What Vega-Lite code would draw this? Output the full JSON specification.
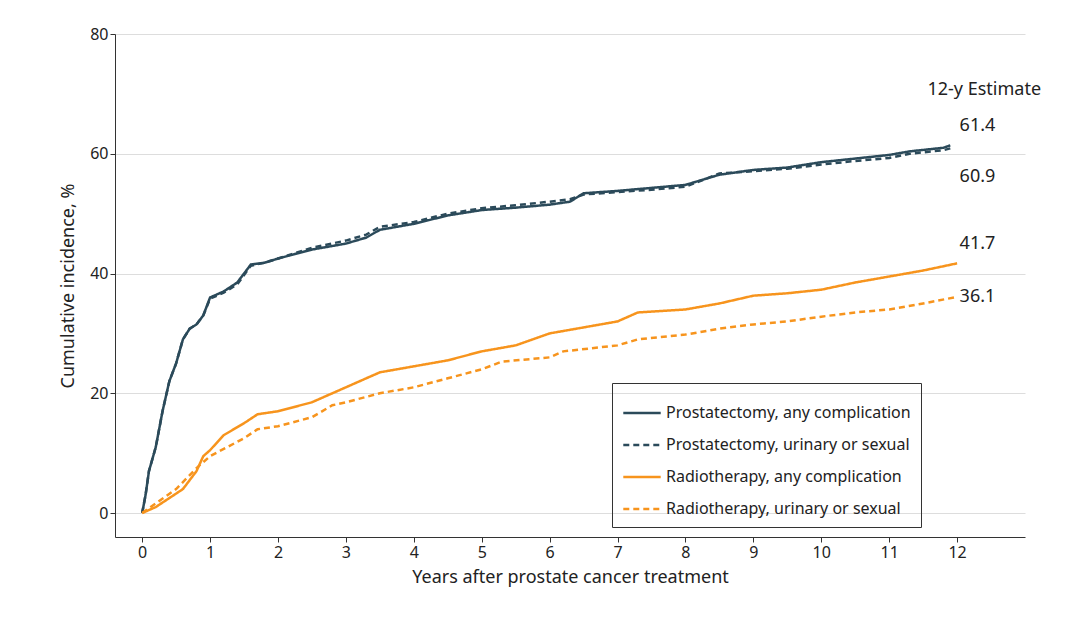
{
  "$schema": "https://vega.github.io/schema/vega-lite/v6.json",
  "autosize": "none",
  "padding": {"left": 115, "top": 34, "right": 55, "bottom": 80},
  "width": 910,
  "height": 503,
  "config": {
    "font": "Noto Sans",
    "view": {"stroke": null},
    "axis": {"labelFontSize": 16, "titleFontSize": 18, "titleFontWeight": "normal", "labelColor": "#222", "titleColor": "#222", "domainColor": "#333", "tickColor": "#333", "format": "d"}
  },
  "datasets": {
    "curves": [
      {"s": "Prostatectomy, any complication", "t": 0, "v": 0}, {"s": "Prostatectomy, any complication", "t": 0.05, "v": 3}, {"s": "Prostatectomy, any complication", "t": 0.1, "v": 7}, {"s": "Prostatectomy, any complication", "t": 0.2, "v": 11}, {"s": "Prostatectomy, any complication", "t": 0.3, "v": 17}, {"s": "Prostatectomy, any complication", "t": 0.4, "v": 22}, {"s": "Prostatectomy, any complication", "t": 0.5, "v": 25}, {"s": "Prostatectomy, any complication", "t": 0.6, "v": 29}, {"s": "Prostatectomy, any complication", "t": 0.7, "v": 30.8}, {"s": "Prostatectomy, any complication", "t": 0.8, "v": 31.5}, {"s": "Prostatectomy, any complication", "t": 0.9, "v": 33}, {"s": "Prostatectomy, any complication", "t": 1.0, "v": 36}, {"s": "Prostatectomy, any complication", "t": 1.2, "v": 37}, {"s": "Prostatectomy, any complication", "t": 1.4, "v": 38.5}, {"s": "Prostatectomy, any complication", "t": 1.6, "v": 41.5}, {"s": "Prostatectomy, any complication", "t": 1.8, "v": 41.8}, {"s": "Prostatectomy, any complication", "t": 2, "v": 42.5}, {"s": "Prostatectomy, any complication", "t": 2.5, "v": 44}, {"s": "Prostatectomy, any complication", "t": 3, "v": 45}, {"s": "Prostatectomy, any complication", "t": 3.3, "v": 46}, {"s": "Prostatectomy, any complication", "t": 3.5, "v": 47.3}, {"s": "Prostatectomy, any complication", "t": 4, "v": 48.3}, {"s": "Prostatectomy, any complication", "t": 4.5, "v": 49.7}, {"s": "Prostatectomy, any complication", "t": 5, "v": 50.6}, {"s": "Prostatectomy, any complication", "t": 5.5, "v": 51}, {"s": "Prostatectomy, any complication", "t": 6, "v": 51.5}, {"s": "Prostatectomy, any complication", "t": 6.3, "v": 52}, {"s": "Prostatectomy, any complication", "t": 6.5, "v": 53.4}, {"s": "Prostatectomy, any complication", "t": 7, "v": 53.8}, {"s": "Prostatectomy, any complication", "t": 7.5, "v": 54.3}, {"s": "Prostatectomy, any complication", "t": 8, "v": 54.8}, {"s": "Prostatectomy, any complication", "t": 8.5, "v": 56.5}, {"s": "Prostatectomy, any complication", "t": 9, "v": 57.3}, {"s": "Prostatectomy, any complication", "t": 9.5, "v": 57.7}, {"s": "Prostatectomy, any complication", "t": 10, "v": 58.6}, {"s": "Prostatectomy, any complication", "t": 10.5, "v": 59.2}, {"s": "Prostatectomy, any complication", "t": 11, "v": 59.8}, {"s": "Prostatectomy, any complication", "t": 11.3, "v": 60.4}, {"s": "Prostatectomy, any complication", "t": 11.8, "v": 61.0}, {"s": "Prostatectomy, any complication", "t": 11.9, "v": 61.4},
      {"s": "Prostatectomy, urinary or sexual", "t": 0, "v": 0}, {"s": "Prostatectomy, urinary or sexual", "t": 0.05, "v": 3}, {"s": "Prostatectomy, urinary or sexual", "t": 0.1, "v": 7}, {"s": "Prostatectomy, urinary or sexual", "t": 0.2, "v": 11}, {"s": "Prostatectomy, urinary or sexual", "t": 0.3, "v": 17}, {"s": "Prostatectomy, urinary or sexual", "t": 0.4, "v": 22}, {"s": "Prostatectomy, urinary or sexual", "t": 0.5, "v": 25}, {"s": "Prostatectomy, urinary or sexual", "t": 0.6, "v": 29}, {"s": "Prostatectomy, urinary or sexual", "t": 0.7, "v": 30.8}, {"s": "Prostatectomy, urinary or sexual", "t": 0.8, "v": 31.5}, {"s": "Prostatectomy, urinary or sexual", "t": 0.9, "v": 33}, {"s": "Prostatectomy, urinary or sexual", "t": 1.0, "v": 35.8}, {"s": "Prostatectomy, urinary or sexual", "t": 1.2, "v": 36.8}, {"s": "Prostatectomy, urinary or sexual", "t": 1.4, "v": 38.2}, {"s": "Prostatectomy, urinary or sexual", "t": 1.6, "v": 41.3}, {"s": "Prostatectomy, urinary or sexual", "t": 1.8, "v": 41.8}, {"s": "Prostatectomy, urinary or sexual", "t": 2, "v": 42.5}, {"s": "Prostatectomy, urinary or sexual", "t": 2.5, "v": 44.3}, {"s": "Prostatectomy, urinary or sexual", "t": 3, "v": 45.5}, {"s": "Prostatectomy, urinary or sexual", "t": 3.3, "v": 46.5}, {"s": "Prostatectomy, urinary or sexual", "t": 3.5, "v": 47.8}, {"s": "Prostatectomy, urinary or sexual", "t": 4, "v": 48.6}, {"s": "Prostatectomy, urinary or sexual", "t": 4.5, "v": 50}, {"s": "Prostatectomy, urinary or sexual", "t": 5, "v": 50.9}, {"s": "Prostatectomy, urinary or sexual", "t": 5.5, "v": 51.4}, {"s": "Prostatectomy, urinary or sexual", "t": 6, "v": 52}, {"s": "Prostatectomy, urinary or sexual", "t": 6.3, "v": 52.4}, {"s": "Prostatectomy, urinary or sexual", "t": 6.5, "v": 53.2}, {"s": "Prostatectomy, urinary or sexual", "t": 7, "v": 53.6}, {"s": "Prostatectomy, urinary or sexual", "t": 7.5, "v": 54}, {"s": "Prostatectomy, urinary or sexual", "t": 8, "v": 54.5}, {"s": "Prostatectomy, urinary or sexual", "t": 8.5, "v": 56.7}, {"s": "Prostatectomy, urinary or sexual", "t": 9, "v": 57.1}, {"s": "Prostatectomy, urinary or sexual", "t": 9.5, "v": 57.5}, {"s": "Prostatectomy, urinary or sexual", "t": 10, "v": 58.2}, {"s": "Prostatectomy, urinary or sexual", "t": 10.5, "v": 58.8}, {"s": "Prostatectomy, urinary or sexual", "t": 11, "v": 59.3}, {"s": "Prostatectomy, urinary or sexual", "t": 11.3, "v": 60}, {"s": "Prostatectomy, urinary or sexual", "t": 11.8, "v": 60.6}, {"s": "Prostatectomy, urinary or sexual", "t": 11.9, "v": 60.9},
      {"s": "Radiotherapy, any complication", "t": 0, "v": 0}, {"s": "Radiotherapy, any complication", "t": 0.2, "v": 1}, {"s": "Radiotherapy, any complication", "t": 0.4, "v": 2.5}, {"s": "Radiotherapy, any complication", "t": 0.6, "v": 4}, {"s": "Radiotherapy, any complication", "t": 0.8, "v": 7}, {"s": "Radiotherapy, any complication", "t": 0.9, "v": 9.5}, {"s": "Radiotherapy, any complication", "t": 1, "v": 10.5}, {"s": "Radiotherapy, any complication", "t": 1.2, "v": 13}, {"s": "Radiotherapy, any complication", "t": 1.5, "v": 15}, {"s": "Radiotherapy, any complication", "t": 1.7, "v": 16.5}, {"s": "Radiotherapy, any complication", "t": 2, "v": 17}, {"s": "Radiotherapy, any complication", "t": 2.5, "v": 18.5}, {"s": "Radiotherapy, any complication", "t": 2.8, "v": 20}, {"s": "Radiotherapy, any complication", "t": 3, "v": 21}, {"s": "Radiotherapy, any complication", "t": 3.5, "v": 23.5}, {"s": "Radiotherapy, any complication", "t": 4, "v": 24.5}, {"s": "Radiotherapy, any complication", "t": 4.5, "v": 25.5}, {"s": "Radiotherapy, any complication", "t": 5, "v": 27}, {"s": "Radiotherapy, any complication", "t": 5.5, "v": 28}, {"s": "Radiotherapy, any complication", "t": 6, "v": 30}, {"s": "Radiotherapy, any complication", "t": 6.5, "v": 31}, {"s": "Radiotherapy, any complication", "t": 7, "v": 32}, {"s": "Radiotherapy, any complication", "t": 7.3, "v": 33.5}, {"s": "Radiotherapy, any complication", "t": 8, "v": 34}, {"s": "Radiotherapy, any complication", "t": 8.5, "v": 35}, {"s": "Radiotherapy, any complication", "t": 9, "v": 36.3}, {"s": "Radiotherapy, any complication", "t": 9.5, "v": 36.7}, {"s": "Radiotherapy, any complication", "t": 10, "v": 37.3}, {"s": "Radiotherapy, any complication", "t": 10.5, "v": 38.5}, {"s": "Radiotherapy, any complication", "t": 11, "v": 39.5}, {"s": "Radiotherapy, any complication", "t": 11.5, "v": 40.5}, {"s": "Radiotherapy, any complication", "t": 12, "v": 41.7},
      {"s": "Radiotherapy, urinary or sexual", "t": 0, "v": 0}, {"s": "Radiotherapy, urinary or sexual", "t": 0.5, "v": 4}, {"s": "Radiotherapy, urinary or sexual", "t": 0.8, "v": 7.5}, {"s": "Radiotherapy, urinary or sexual", "t": 1, "v": 9.5}, {"s": "Radiotherapy, urinary or sexual", "t": 1.5, "v": 12.5}, {"s": "Radiotherapy, urinary or sexual", "t": 1.7, "v": 14}, {"s": "Radiotherapy, urinary or sexual", "t": 2, "v": 14.5}, {"s": "Radiotherapy, urinary or sexual", "t": 2.5, "v": 16}, {"s": "Radiotherapy, urinary or sexual", "t": 2.8, "v": 18}, {"s": "Radiotherapy, urinary or sexual", "t": 3, "v": 18.5}, {"s": "Radiotherapy, urinary or sexual", "t": 3.5, "v": 20}, {"s": "Radiotherapy, urinary or sexual", "t": 4, "v": 21}, {"s": "Radiotherapy, urinary or sexual", "t": 4.5, "v": 22.5}, {"s": "Radiotherapy, urinary or sexual", "t": 5, "v": 24}, {"s": "Radiotherapy, urinary or sexual", "t": 5.3, "v": 25.3}, {"s": "Radiotherapy, urinary or sexual", "t": 6, "v": 26}, {"s": "Radiotherapy, urinary or sexual", "t": 6.2, "v": 27}, {"s": "Radiotherapy, urinary or sexual", "t": 7, "v": 28}, {"s": "Radiotherapy, urinary or sexual", "t": 7.3, "v": 29}, {"s": "Radiotherapy, urinary or sexual", "t": 8, "v": 29.8}, {"s": "Radiotherapy, urinary or sexual", "t": 8.5, "v": 30.8}, {"s": "Radiotherapy, urinary or sexual", "t": 9, "v": 31.5}, {"s": "Radiotherapy, urinary or sexual", "t": 9.5, "v": 32}, {"s": "Radiotherapy, urinary or sexual", "t": 10, "v": 32.8}, {"s": "Radiotherapy, urinary or sexual", "t": 10.5, "v": 33.5}, {"s": "Radiotherapy, urinary or sexual", "t": 11, "v": 34}, {"s": "Radiotherapy, urinary or sexual", "t": 11.5, "v": 35}, {"s": "Radiotherapy, urinary or sexual", "t": 12, "v": 36.1}
    ],
    "labels": [
      {"label": "12-y Estimate", "t": 12.4, "v": 70.6},
      {"label": "61.4", "t": 12.3, "v": 64.6},
      {"label": "60.9", "t": 12.3, "v": 56.1},
      {"label": "41.7", "t": 12.3, "v": 44.9},
      {"label": "36.1", "t": 12.3, "v": 36.1}
    ]
  },
  "layer": [
    {
      "data": {"name": "curves"},
      "mark": {"type": "line", "interpolate": "linear", "strokeWidth": 2.5},
      "encoding": {
        "x": {"field": "t", "type": "quantitative", "scale": {"domain": [-0.4, 13], "nice": false},
              "axis": {"values": [0,1,2,3,4,5,6,7,8,9,10,11,12], "title": "Years after prostate cancer treatment", "grid": false, "titlePadding": 8}},
        "y": {"field": "v", "type": "quantitative", "scale": {"domain": [-4, 80], "nice": false},
              "axis": {"values": [0, 20, 40, 60, 80], "title": "Cumulative incidence, %", "grid": true, "gridColor": "#ddd", "titlePadding": 12}},
        "color": {"field": "s", "type": "nominal",
                  "scale": {"domain": ["Prostatectomy, any complication", "Prostatectomy, urinary or sexual", "Radiotherapy, any complication", "Radiotherapy, urinary or sexual"],
                            "range": ["#2b4a5a", "#2b4a5a", "#f7941d", "#f7941d"]},
                  "legend": {"title": null, "orient": "none", "legendX": 497, "legendY": 349, "labelFontSize": 16, "labelLimit": 0, "symbolType": "stroke", "symbolSize": 1400, "symbolStrokeWidth": 2.5, "strokeColor": "#333", "padding": 10, "rowPadding": 4, "labelColor": "#222"}},
        "strokeDash": {"field": "s", "type": "nominal",
                  "scale": {"domain": ["Prostatectomy, any complication", "Prostatectomy, urinary or sexual", "Radiotherapy, any complication", "Radiotherapy, urinary or sexual"],
                            "range": [[1, 0], [6, 4], [1, 0], [6, 4]]}}
      }
    },
    {
      "data": {"name": "labels"},
      "mark": {"type": "text", "fontSize": 18, "color": "#222"},
      "encoding": {
        "x": {"field": "t", "type": "quantitative"},
        "y": {"field": "v", "type": "quantitative"},
        "text": {"field": "label"}
      }
    }
  ]
}
